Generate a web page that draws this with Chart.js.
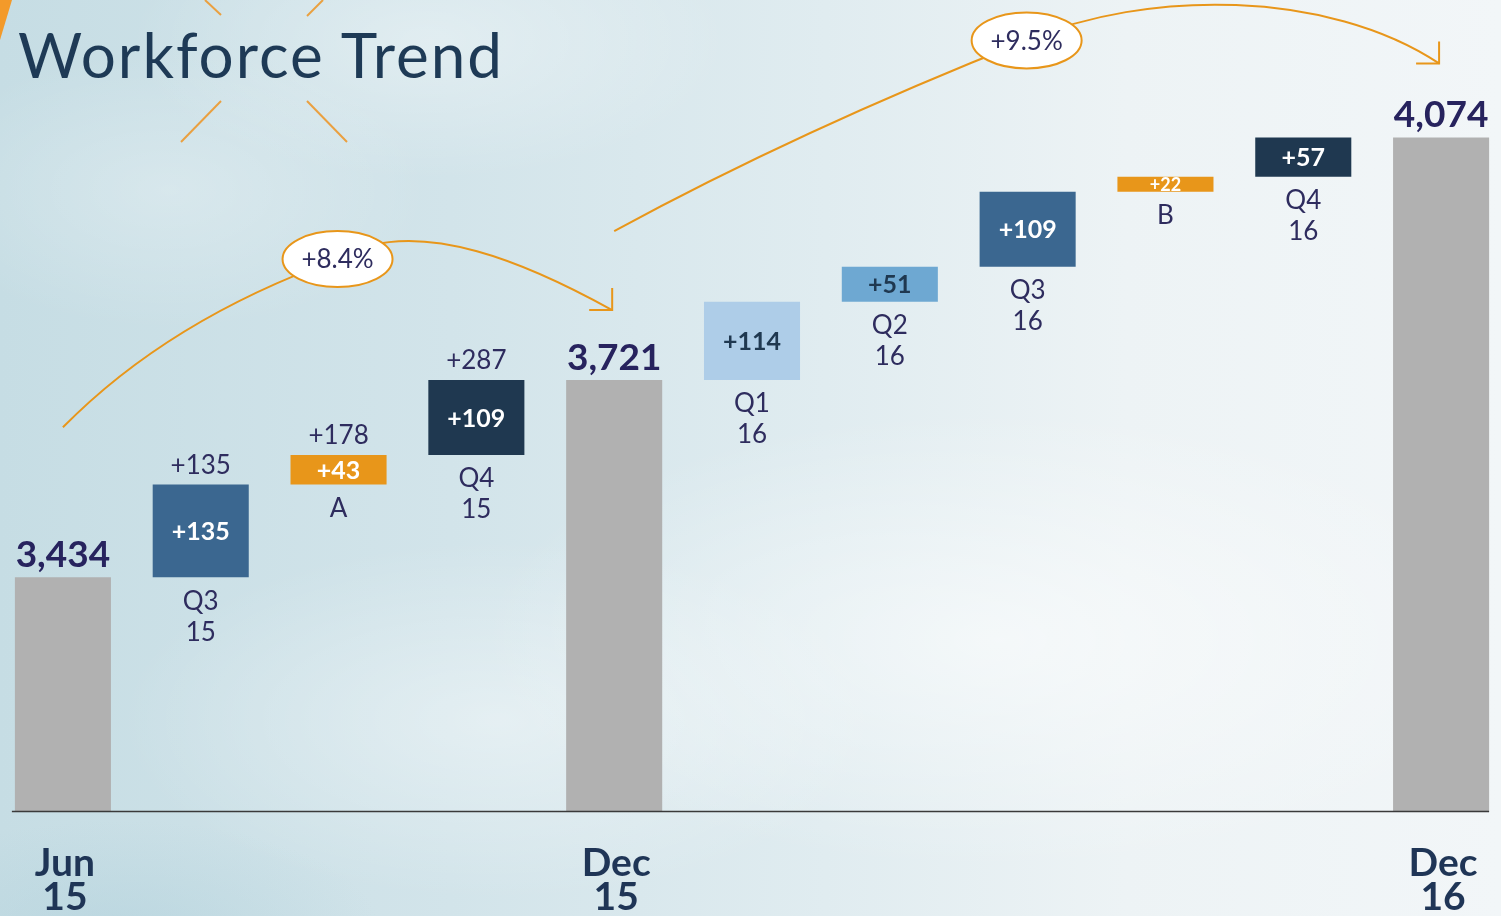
<!DOCTYPE html>
<html>
<head>
<meta charset="utf-8">
<title>Workforce Trend</title>
<script src="https://cdn.jsdelivr.net/npm/chart.js@4"></script>
<style>
html, body { margin: 0; padding: 0; }
body {
  width: 1501px; height: 916px; overflow: hidden; position: relative;
  font-family: Lato, "Open Sans", sans-serif;
  background:
    radial-gradient(ellipse 300px 140px at 430px 40px, rgba(255,255,255,0.35), rgba(255,255,255,0)),
    radial-gradient(ellipse 260px 140px at 170px 190px, rgba(255,255,255,0.25), rgba(255,255,255,0)),
    radial-gradient(ellipse 520px 230px at 1000px 640px, rgba(255,255,255,0.55), rgba(255,255,255,0)),
    radial-gradient(ellipse 380px 180px at 500px 720px, rgba(255,255,255,0.4), rgba(255,255,255,0)),
    radial-gradient(ellipse 260px 110px at 120px 930px, rgba(175,208,219,0.5), rgba(175,208,219,0)),
    linear-gradient(90deg, #c6dde4 0%, #d2e4ea 30%, #e0ecf0 55%, #edf3f5 75%, #f2f6f8 100%);
}
#deco { position: absolute; left: 0; top: 0; }
#title {
  position: absolute; left: 18px; top: 23px; margin: 0;
  font-size: 62px; line-height: 62px; font-weight: 400; letter-spacing: 2px;
  color: #1e3a56; white-space: nowrap;
}
#chart { position: absolute; left: -6px; top: 0; }
</style>
</head>
<body>
<svg id="deco" width="520" height="150">
  <polygon points="0,0 12,0 0,40" fill="#f39a2a"/>
  <g stroke="#eaa040" stroke-width="2">
    <line x1="205" y1="0" x2="221" y2="15"/>
    <line x1="323" y1="0" x2="307" y2="16"/>
    <line x1="221" y1="101" x2="181" y2="142"/>
    <line x1="307" y1="101" x2="347" y2="142"/>
  </g>
</svg>
<h1 id="title">Workforce Trend</h1>
<canvas id="chart" width="1516" height="916"></canvas>
<script>
const categories = ['Jun 15', 'Q3 15', 'A', 'Q4 15', 'Dec 15', 'Q1 16', 'Q2 16', 'Q3 16', 'B', 'Q4 16', 'Dec 16'];
const categoryLines = [['Jun', '15'], ['Q3', '15'], ['A'], ['Q4', '15'], ['Dec', '15'], ['Q1', '16'], ['Q2', '16'], ['Q3', '16'], ['B'], ['Q4', '16'], ['Dec', '16']];
const isTotal = [true, false, false, false, true, false, false, false, false, false, true];
const values = [3434, 135, 43, 109, 3721, 114, 51, 109, 22, 57, 4074];
const runningLabels = ['', '+135', '+178', '+287', '', '', '', '', '', '', ''];
const barColors = ['#b1b1b1', '#3b6790', '#e8961a', '#1f3850', '#b1b1b1', '#aecde8', '#6ea8d2', '#3b6790', '#e8961a', '#1f3850', '#b1b1b1'];
const innerTextColors = ['', '#fff', '#fff', '#fff', '', '#1f3850', '#1f3850', '#fff', '#fff', '#fff', ''];
const yMin = 3094;
const yMax = 4274;

// waterfall: totals start at the axis, changes float on the running level
let level = yMin;
const floating = values.map((v, i) => {
  if (isTotal[i]) {
    level = v;
    return [yMin, v];
  }
  const seg = [level, level + v];
  level += v;
  return seg;
});

const arrows = [
  {from: 0, to: 4, lift: [150, 70], labelLift: 51, ctrl: [0.385, 0.36], bend: [48, 41]},
  {from: 4, to: 10, lift: [149, 74], labelLift: 23, ctrl: [0.447, 0.474], bend: [51, 74]}
];

function fmt(n) {
  return n.toLocaleString('en-US');
}

const waterfallLabels = {
  id: 'waterfallLabels',
  afterDatasetsDraw(chart) {
    const ctx = chart.ctx;
    const meta = chart.getDatasetMeta(0);
    const axisY = chart.chartArea.bottom;
    ctx.save();
    ctx.textAlign = 'center';
    ctx.textBaseline = 'middle';

    // axis line
    const first = meta.data[0], last = meta.data[meta.data.length - 1];
    ctx.strokeStyle = '#3a3a3a';
    ctx.lineWidth = 1.5;
    ctx.beginPath();
    ctx.moveTo(first.x - first.width / 2 - 3, axisY + 0.5);
    ctx.lineTo(last.x + last.width / 2, axisY + 0.5);
    ctx.stroke();

    meta.data.forEach((bar, i) => {
      const top = Math.min(bar.y, bar.base);
      const bottom = Math.max(bar.y, bar.base);
      const h = bottom - top;
      if (isTotal[i]) {
        ctx.fillStyle = '#27235e';
        ctx.font = 'bold 37px Lato';
        ctx.fillText(fmt(values[i]), bar.x, top - 22);
        ctx.fillStyle = '#1f3556';
        ctx.font = 'bold 39px Lato';
        categoryLines[i].forEach((t, k) => ctx.fillText(t, bar.x + 2, axisY + 52 + k * 34));
      } else {
        ctx.fillStyle = innerTextColors[i];
        ctx.font = 'bold ' + Math.max(16, Math.min(25, Math.round(h) + 3)) + 'px Lato';
        ctx.fillText('+' + values[i], bar.x, (top + bottom) / 2 + 1);
        ctx.fillStyle = '#2e2c5e';
        ctx.font = '26px Lato';
        if (runningLabels[i]) ctx.fillText(runningLabels[i], bar.x, top - 19);
        categoryLines[i].forEach((t, k) => ctx.fillText(t, bar.x, bottom + 24 + k * 31));
      }
    });
    ctx.restore();
  }
};

const growthArrows = {
  id: 'growthArrows',
  afterDatasetsDraw(chart) {
    const ctx = chart.ctx;
    const meta = chart.getDatasetMeta(0);
    ctx.save();
    arrows.forEach((a) => {
      const b0 = meta.data[a.from], b1 = meta.data[a.to];
      const s = {x: b0.x, y: Math.min(b0.y, b0.base) - a.lift[0]};
      const e = {x: b1.x - 2, y: Math.min(b1.y, b1.base) - a.lift[1]};
      const c = {x: (s.x + e.x) / 2, y: e.y - a.labelLift};
      ctx.strokeStyle = '#e8961a';
      ctx.lineWidth = 2;
      ctx.beginPath();
      ctx.moveTo(s.x, s.y);
      ctx.quadraticCurveTo(s.x + a.ctrl[0] * (c.x - s.x), c.y + a.ctrl[1] * (s.y - c.y), c.x, c.y);
      ctx.bezierCurveTo(c.x + 0.29 * (e.x - c.x), c.y - a.bend[0],
                        e.x - 0.27 * (e.x - c.x), e.y - a.bend[1], e.x, e.y);
      ctx.stroke();
      // open arrow head
      ctx.beginPath();
      ctx.moveTo(e.x, e.y - 22);
      ctx.lineTo(e.x, e.y);
      ctx.lineTo(e.x - 23, e.y);
      ctx.stroke();
      // label bubble
      ctx.beginPath();
      ctx.ellipse(c.x, c.y, 55, 28, 0, 0, Math.PI * 2);
      ctx.fillStyle = '#fff';
      ctx.fill();
      ctx.stroke();
      const pct = (values[a.to] - values[a.from]) / values[a.from] * 100;
      ctx.fillStyle = '#2e2c5e';
      ctx.font = '26px Lato';
      ctx.textAlign = 'center';
      ctx.textBaseline = 'middle';
      ctx.fillText('+' + pct.toFixed(1) + '%', c.x, c.y + 1);
    });
    ctx.restore();
  }
};

new Chart(document.getElementById('chart'), {
  type: 'bar',
  data: {
    labels: categories,
    datasets: [{
      data: floating,
      backgroundColor: barColors,
      borderWidth: 0,
      barPercentage: 0.697,
      categoryPercentage: 1
    }]
  },
  options: {
    responsive: false,
    animation: false,
    layout: {padding: {top: 0, bottom: 105, left: 0, right: 0}},
    plugins: {legend: {display: false}, tooltip: {enabled: false}},
    scales: {
      x: {display: false},
      y: {display: false, min: yMin, max: yMax}
    }
  },
  plugins: [waterfallLabels, growthArrows]
});
</script>
</body>
</html>
